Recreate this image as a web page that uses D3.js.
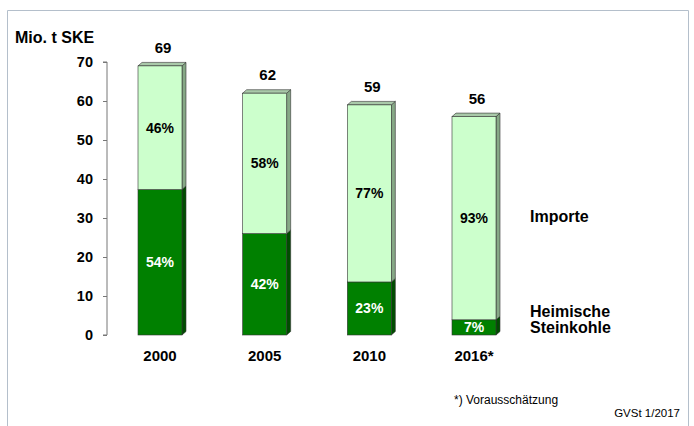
<!DOCTYPE html>
<html>
<head>
<meta charset="utf-8">
<script src="https://cdn.jsdelivr.net/npm/d3@7"></script>
<style>
  body { margin: 0; background: #fff; }
  text { font-family: "Liberation Sans", Arial, sans-serif; }
</style>
</head>
<body>
<script>
// data
var years = ["2000", "2005", "2010", "2016*"];
var heimisch = [37.3, 26.0, 13.6, 3.9];
var importe = [31.7, 36.0, 45.4, 52.1];
var totals = [69, 62, 59, 56];
var pctHeimisch = ["54%", "42%", "23%", "7%"];
var pctImporte = ["46%", "58%", "77%", "93%"];
var yTicks = [0, 10, 20, 30, 40, 50, 60, 70];

var W = 694, H = 426;
var svg = d3.select("body").append("svg")
    .attr("width", W)
    .attr("height", H);

// frame
svg.append("path")
    .attr("d", "M7.5," + H + "V10.5H688.5V" + H)
    .attr("fill", "none")
    .attr("stroke", "#b4bfcb")
    .attr("stroke-width", 1);

var y = d3.scaleLinear()
    .domain([0, 70])
    .range([335, 62]);

var x = d3.scalePoint()
    .domain(years)
    .range([160, 474]);

var bw = 44, dx = 4, dy = 3.5;

// y axis
var yAxis = d3.axisLeft(y)
    .tickValues(yTicks)
    .tickSize(4)
    .tickPadding(10);

var ag = svg.append("g")
    .attr("transform", "translate(107,0)")
    .call(yAxis);
ag.select(".domain").attr("stroke", "#777").attr("d", "M-4," + y(70) + "H0V" + y(0) + "H-4");
ag.selectAll(".tick line").attr("stroke", "#777");
ag.selectAll(".tick text")
    .attr("font-size", "14.5px")
    .attr("font-weight", "bold")
    .attr("fill", "#000")
    .attr("font-family", "Liberation Sans, Arial, sans-serif");

svg.append("text")
    .attr("x", 15)
    .attr("y", 43)
    .attr("font-size", "16px")
    .attr("font-weight", "bold")
    .text("Mio. t SKE");

var data = years.map(function(d, i) {
  return { year: d, h: heimisch[i], imp: importe[i], total: totals[i], ph: pctHeimisch[i], pi: pctImporte[i] };
});

function box(g, x0, yTop, yBot, front, side, top) {
  // side face
  g.append("path")
      .attr("d", "M" + (x0 + bw) + "," + yBot + "L" + (x0 + bw + dx) + "," + (yBot - dy) +
        "L" + (x0 + bw + dx) + "," + (yTop - dy) + "L" + (x0 + bw) + "," + yTop + "Z")
      .attr("fill", side).attr("stroke", "#333").attr("stroke-width", 0.6);
  if (top) {
    g.append("path")
        .attr("d", "M" + x0 + "," + yTop + "L" + (x0 + dx) + "," + (yTop - dy) +
          "L" + (x0 + bw + dx) + "," + (yTop - dy) + "L" + (x0 + bw) + "," + yTop + "Z")
        .attr("fill", top).attr("stroke", "#333").attr("stroke-width", 0.6);
  }
  g.append("rect")
      .attr("x", x0).attr("y", yTop)
      .attr("width", bw).attr("height", yBot - yTop)
      .attr("fill", front).attr("stroke", "#333").attr("stroke-width", 0.6);
}

var bars = svg.selectAll(".bar")
    .data(data)
    .enter().append("g")
    .attr("class", "bar");

bars.each(function(d) {
  var g = d3.select(this);
  var x0 = x(d.year) - bw / 2;
  box(g, x0, y(d.h), y(0), "#008000", "#004d00", null);
  box(g, x0, y(d.h + d.imp), y(d.h), "#ccffcc", "#86a886", "#a9c9a9");

  g.append("text")
      .attr("x", x(d.year))
      .attr("y", (y(d.h) + y(0)) / 2 + 5)
      .attr("text-anchor", "middle")
      .attr("font-size", "14px")
      .attr("font-weight", "bold")
      .attr("fill", "#fff")
      .text(d.ph);
  g.append("text")
      .attr("x", x(d.year))
      .attr("y", (y(d.h + d.imp) + y(d.h)) / 2 + 5)
      .attr("text-anchor", "middle")
      .attr("font-size", "14px")
      .attr("font-weight", "bold")
      .attr("fill", "#000")
      .text(d.pi);
  g.append("text")
      .attr("x", x(d.year) + 3)
      .attr("y", y(d.total) - 13)
      .attr("text-anchor", "middle")
      .attr("font-size", "15px")
      .attr("font-weight", "bold")
      .text(d.total);
  g.append("text")
      .attr("x", x(d.year))
      .attr("y", 361)
      .attr("text-anchor", "middle")
      .attr("font-size", "15px")
      .attr("font-weight", "bold")
      .text(d.year);
});

// series labels
var lab = svg.append("g").attr("font-size", "16px").attr("font-weight", "bold");
lab.append("text").attr("x", 530).attr("y", 222).text("Importe");
lab.append("text").attr("x", 530).attr("y", 317).text("Heimische");
lab.append("text").attr("x", 530).attr("y", 333).text("Steinkohle");

svg.append("text")
    .attr("x", 454).attr("y", 404)
    .attr("font-size", "12px")
    .text("*) Vorausschätzung");
svg.append("text")
    .attr("x", 680).attr("y", 417)
    .attr("text-anchor", "end")
    .attr("font-size", "11.5px")
    .text("GVSt 1/2017");
</script>
</body>
</html>
